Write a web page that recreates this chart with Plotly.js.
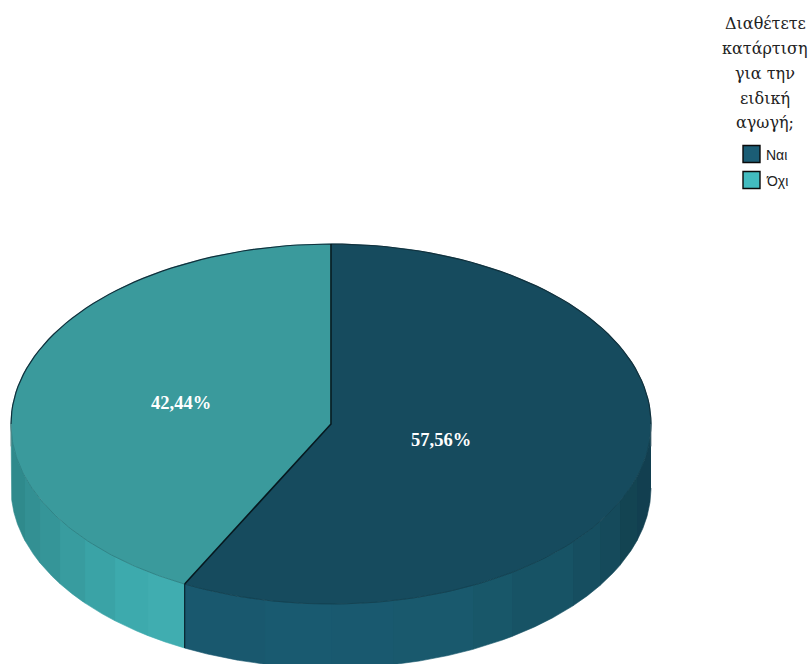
<!DOCTYPE html>
<html><head><meta charset="utf-8">
<script src="https://cdn.plot.ly/plotly-3.0.1.min.js"></script>
<style>html,body{margin:0;padding:0;background:#fff}#c{width:811px;height:664px}</style>
</head><body><div id="c"></div>
<script>
const categories = ['Ναι', 'Όχι'];
const shares = [57.56, 42.44];
const topColors = ['#164b5e', '#3a9a9c'];
const legendColors = ['#1b5d75', '#42bcc0'];
const titleLines = ['Διαθέτετε', 'κατάρτιση', 'για την', 'ειδική', 'αγωγή;'];
const titleRowsY = [23, 48, 73, 98, 122];
const legendRowsY = [154, 180];
const labelPos = [[441, 440], [180.5, 403]];
const naiBandEdges = [651, 637, 620, 600, 573, 512, 473, 393, 331, 265, 185];
const naiBandColors = ['#123f50', '#134452', '#154a5b', '#164e60', '#175365', '#185769', '#19596d', '#19596f', '#195a70', '#19586e'];
const oxiBandEdges = [185, 148, 115, 85, 60, 40, 25, 11];
const oxiBandColors = ['#40adb0', '#3daaad', '#3aa3a6', '#389c9f', '#359598', '#339093', '#2f8a8c'];

// pie geometry, in pixels of the axis range
const cx = 331, cy = 424, rx = 320, ry = 180, depth = 64;
const pt = a => [cx + rx * Math.sin(a), cy - ry * Math.cos(a)];
const arc = (a0, a1) => { const o = []; const n = 90;
  for (let i = 0; i <= n; i++) o.push(pt(a0 + (a1 - a0) * i / n)); return o; };
const split = 2 * Math.PI * shares[0] / 100;

const traces = [];
function poly(points, fill, line, width) {
  traces.push({type: 'scatter', mode: 'lines', fill: 'toself', fillcolor: fill, hoverinfo: 'skip',
    x: points.map(p => p[0]), y: points.map(p => p[1]),
    line: {color: line || fill, width: width === undefined ? 0.6 : width}, showlegend: false});
}
function stroke(points, color, width) {
  traces.push({type: 'scatter', mode: 'lines', hoverinfo: 'skip', showlegend: false,
    x: points.map(p => p[0]), y: points.map(p => p[1]), line: {color, width}});
}
// x edge -> ellipse angle on the front half
const angOf = x => Math.PI - Math.asin((x - cx) / rx);
function bands(edges, colors) {
  for (let i = 0; i < colors.length; i++) {
    const top = arc(angOf(edges[i]), angOf(edges[i + 1]));
    const bottom = top.slice().reverse().map(p => [p[0], p[1] + depth]);
    poly(top.concat(bottom), colors[i]);
  }
}
bands(naiBandEdges, naiBandColors);
bands(oxiBandEdges, oxiBandColors);

// top faces
poly([[cx, cy]].concat(arc(0, split)).concat([[cx, cy]]), topColors[0], topColors[0], 0.6);
poly([[cx, cy]].concat(arc(split, 2 * Math.PI)).concat([[cx, cy]]), topColors[1], topColors[1], 0.6);

// outlines
const rim = pt(split);
stroke(arc(-Math.PI / 2, Math.PI / 2), '#10303c', 1.2);
stroke(arc(Math.PI / 2, split), '#123f4e', 0.8);
stroke(arc(split, 1.5 * Math.PI), '#2c7d80', 0.8);
stroke([[cx, cy - ry], [cx, cy], rim], '#06181f', 1.6);
stroke([rim, [rim[0], rim[1] + depth]], '#0a2a35', 1.3);
stroke([[cx - rx, cy], [cx - rx, cy + depth * 0.35]], '#6a8a8c', 0.8);
stroke([[cx + rx, cy], [cx + rx, cy + depth * 0.35]], '#55707a', 0.8);

// legend swatches
traces.push({type: 'scatter', mode: 'markers', hoverinfo: 'skip', showlegend: false,
  x: categories.map(() => 751.5), y: legendRowsY,
  marker: {symbol: 'square', size: 17, color: legendColors, line: {color: '#0a0a0a', width: 1.4}}});

const annotations = [];
titleLines.forEach((t, i) => annotations.push({x: 765, y: titleRowsY[i], text: t, showarrow: false,
  xanchor: 'center', yanchor: 'middle', font: {family: '"DejaVu Serif", serif', size: 16, color: '#222'}}));
categories.forEach((t, i) => annotations.push({x: 764, y: legendRowsY[i] + 1, text: t, showarrow: false,
  xanchor: 'left', yanchor: 'middle', font: {family: '"Liberation Sans", sans-serif', size: 14, color: '#222'}}));
shares.forEach((v, i) => annotations.push({x: labelPos[i][0], y: labelPos[i][1],
  text: '<b>' + v.toFixed(2).replace('.', ',') + '%</b>', showarrow: false,
  xanchor: 'center', yanchor: 'middle', font: {family: '"Liberation Serif", serif', size: 18.5, color: '#ffffff'}}));

const hidden = {visible: false, fixedrange: true};
Plotly.newPlot('c', traces, {
  width: 811, height: 664, margin: {l: 0, r: 0, t: 0, b: 0, pad: 0},
  paper_bgcolor: '#fff', plot_bgcolor: '#fff', showlegend: false,
  xaxis: Object.assign({range: [0, 811]}, hidden),
  yaxis: Object.assign({range: [664, 0]}, hidden),
  annotations
}, {displayModeBar: false, staticPlot: true});
</script></body></html>
